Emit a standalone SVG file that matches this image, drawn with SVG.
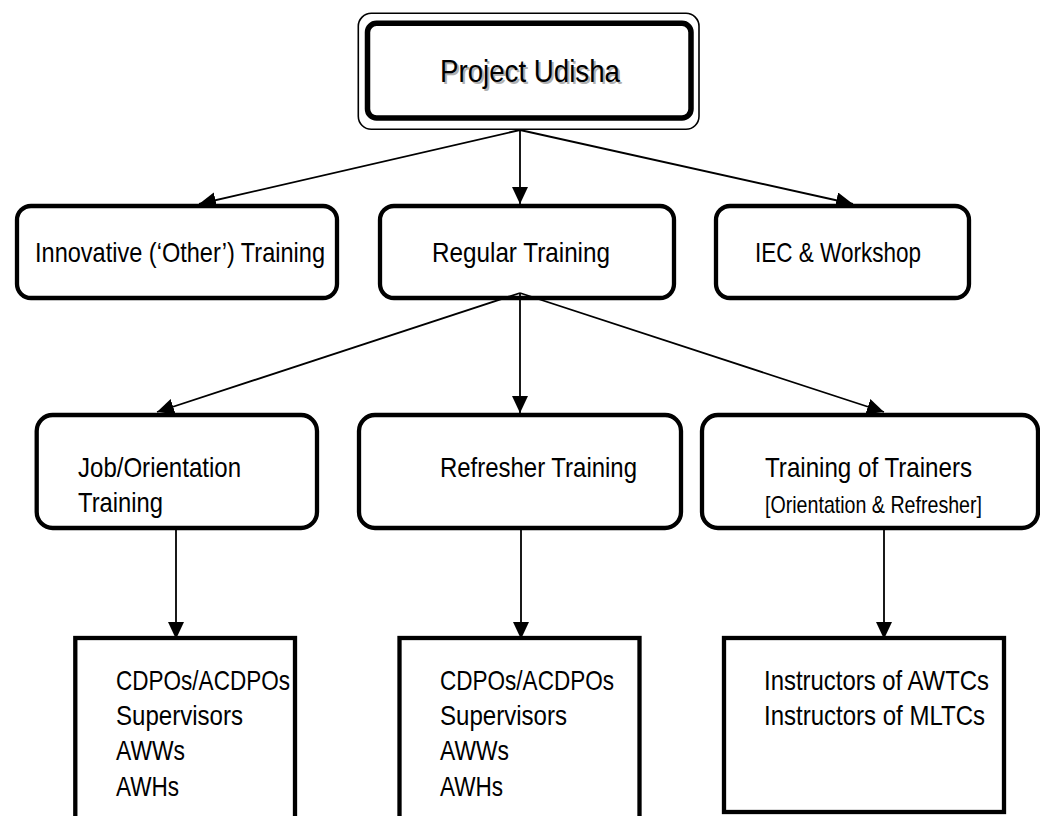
<svg xmlns="http://www.w3.org/2000/svg" width="1040" height="816" viewBox="0 0 1040 816">
  <defs>
    <marker id="arrow" markerUnits="userSpaceOnUse" markerWidth="18" markerHeight="16" refX="17" refY="8" orient="auto">
      <path d="M0,0 L17,8 L0,16 z" fill="#000"/>
    </marker>
    <style>
      text { font-family: "Liberation Sans Narrow", "Liberation Sans", Arial, sans-serif; fill: #000; }
      .lbl { font-size: 28px; }
      .sub { font-size: 24px; }
      .title { font-size: 32px; }
      .shadow { font-size: 32px; fill: #b0b0b0; }
      .rbox { fill: #fff; stroke: #000; stroke-width: 4.3; }
      .sbox { fill: #fff; stroke: #000; stroke-width: 4.3; }
      .conn { stroke: #000; stroke-width: 1.8; fill: none; marker-end: url(#arrow); }
    </style>
  </defs>

  <rect width="1040" height="816" fill="#fff"/>

  <!-- root node with double border -->
  <g id="project-udisha">
    <rect x="358.3" y="13.3" width="340.7" height="116" rx="13" fill="#fff" stroke="#000" stroke-width="1.6"/>
    <rect x="367.5" y="23.3" width="323.5" height="94.7" rx="9" fill="#fff" stroke="#000" stroke-width="5.5"/>
    <text class="shadow" x="442" y="84" textLength="180" lengthAdjust="spacingAndGlyphs">Project Udisha</text>
    <text class="title" x="440" y="82" textLength="180" lengthAdjust="spacingAndGlyphs">Project Udisha</text>
  </g>

  <!-- second level -->
  <g id="innovative-training">
    <rect class="rbox" x="17" y="206" width="320" height="92" rx="14"/>
    <text class="lbl" x="35" y="262" textLength="290" lengthAdjust="spacingAndGlyphs">Innovative (‘Other’) Training</text>
  </g>
  <g id="regular-training">
    <rect class="rbox" x="380" y="206" width="294" height="92" rx="14"/>
    <text class="lbl" x="432" y="262" textLength="178" lengthAdjust="spacingAndGlyphs">Regular Training</text>
  </g>
  <g id="iec-workshop">
    <rect class="rbox" x="716" y="206" width="253" height="92" rx="14"/>
    <text class="lbl" x="755" y="262" textLength="166" lengthAdjust="spacingAndGlyphs">IEC &amp; Workshop</text>
  </g>

  <!-- third level -->
  <g id="job-orientation">
    <rect class="rbox" x="36.7" y="415" width="280.3" height="113" rx="16"/>
    <text class="lbl" x="78" y="477" textLength="163" lengthAdjust="spacingAndGlyphs">Job/Orientation</text>
    <text class="lbl" x="78" y="512" textLength="85" lengthAdjust="spacingAndGlyphs">Training</text>
  </g>
  <g id="refresher-training">
    <rect class="rbox" x="359" y="415" width="322" height="113" rx="16"/>
    <text class="lbl" x="440" y="477" textLength="197" lengthAdjust="spacingAndGlyphs">Refresher Training</text>
  </g>
  <g id="training-of-trainers">
    <rect class="rbox" x="702" y="415" width="336" height="113" rx="16"/>
    <text class="lbl" x="765" y="477" textLength="207" lengthAdjust="spacingAndGlyphs">Training of Trainers</text>
    <text class="sub" x="765" y="513" textLength="217" lengthAdjust="spacingAndGlyphs">[Orientation &amp; Refresher]</text>
  </g>

  <!-- target groups -->
  <g id="job-participants">
    <rect class="sbox" x="75.3" y="638" width="219.7" height="200"/>
    <text class="lbl" x="116" y="690" textLength="174" lengthAdjust="spacingAndGlyphs">CDPOs/ACDPOs</text>
    <text class="lbl" x="116" y="725" textLength="127" lengthAdjust="spacingAndGlyphs">Supervisors</text>
    <text class="lbl" x="116" y="760" textLength="69" lengthAdjust="spacingAndGlyphs">AWWs</text>
    <text class="lbl" x="116" y="796" textLength="63" lengthAdjust="spacingAndGlyphs">AWHs</text>
  </g>
  <g id="refresher-participants">
    <rect class="sbox" x="399.5" y="638" width="240" height="200"/>
    <text class="lbl" x="440" y="690" textLength="174" lengthAdjust="spacingAndGlyphs">CDPOs/ACDPOs</text>
    <text class="lbl" x="440" y="725" textLength="127" lengthAdjust="spacingAndGlyphs">Supervisors</text>
    <text class="lbl" x="440" y="760" textLength="69" lengthAdjust="spacingAndGlyphs">AWWs</text>
    <text class="lbl" x="440" y="796" textLength="63" lengthAdjust="spacingAndGlyphs">AWHs</text>
  </g>
  <g id="tot-participants">
    <rect class="sbox" x="724" y="638" width="280" height="174"/>
    <text class="lbl" x="764" y="690" textLength="225" lengthAdjust="spacingAndGlyphs">Instructors of AWTCs</text>
    <text class="lbl" x="764" y="725" textLength="221" lengthAdjust="spacingAndGlyphs">Instructors of MLTCs</text>
  </g>

  <!-- connectors -->
  <g id="connectors">
    <line class="conn" x1="520" y1="130" x2="199" y2="204"/>
    <line class="conn" x1="520" y1="130" x2="520" y2="204"/>
    <line class="conn" x1="520" y1="130" x2="853" y2="204"/>
    <line class="conn" x1="520" y1="293" x2="157" y2="412"/>
    <line class="conn" x1="520" y1="293" x2="520" y2="413"/>
    <line class="conn" x1="520" y1="293" x2="884" y2="412"/>
    <line class="conn" x1="176" y1="528" x2="176" y2="639"/>
    <line class="conn" x1="521" y1="528" x2="521" y2="639"/>
    <line class="conn" x1="884" y1="528" x2="884" y2="639"/>
  </g>
</svg>
